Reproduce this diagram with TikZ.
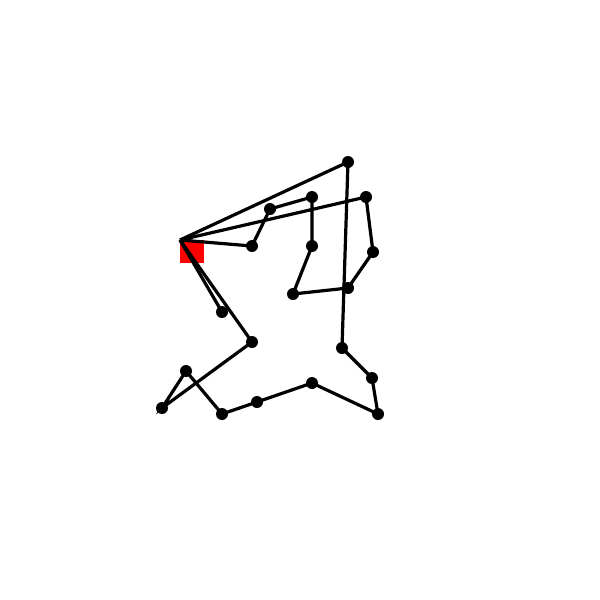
\documentclass[tikz,border=0pt]{standalone}
\usepackage{tikz}
\usetikzlibrary{backgrounds}

\begin{document}
\begin{tikzpicture}[
		x=1pt,y=-1pt,
		stop/.style={
			circle,
			fill=black,
			inner sep=0pt,
			minimum size=12pt
		},
		route/.style={
			draw=black,
			line width=3.2pt
		}
	]
	
	\useasboundingbox (0,0) rectangle (600,600);
	
	% depot
	\coordinate (depot) at (180,240);
	
	% customers
	\node[stop] (c1) at (252,246) {};
	\node[stop] (c2) at (270,209) {};
	\node[stop] (c3) at (312,197) {};
	\node[stop] (c4) at (312,246) {};
	\node[stop] (c5) at (293,294) {};
	\node[stop] (c6) at (348,288) {};
	\node[stop] (c7) at (373,252) {};
	\node[stop] (c8) at (366,197) {};
	\node[stop] (c9) at (348,162) {};
	\node[stop] (c10) at (342,348) {};
	\node[stop] (c11) at (372,378) {};
	\node[stop] (c12) at (378,414) {};
	\node[stop] (c13) at (312,383) {};
	\node[stop] (c14) at (257,402) {};
	\node[stop] (c15) at (222,414) {};
	\node[stop] (c16) at (186,371) {};
	\node[stop] (c17) at (162,408) {};
	\node[stop] (c18) at (252,342) {};
	\node[stop] (c19) at (222,312) {};
	
	\begin{pgfonlayer}{background}
		\fill[red] (depot) rectangle ++(24,23);
		\draw[route] (depot) -- (c1.center) -- (c2.center) -- (c3.center) -- (c4.center)
			-- (c5.center) -- (c6.center) -- (c7.center) -- (c8.center) -- (depot);
		\draw[route] (depot) -- (c9.center) -- (c10.center) -- (c11.center) -- (c12.center)
			-- (c13.center) -- (c14.center) -- (c15.center) -- (c16.center) -- (c17.center)
			-- (c18.center) -- (depot);
		\draw[route] (depot) -- (c19.center);
	\end{pgfonlayer}
	
\end{tikzpicture}
\end{document}
